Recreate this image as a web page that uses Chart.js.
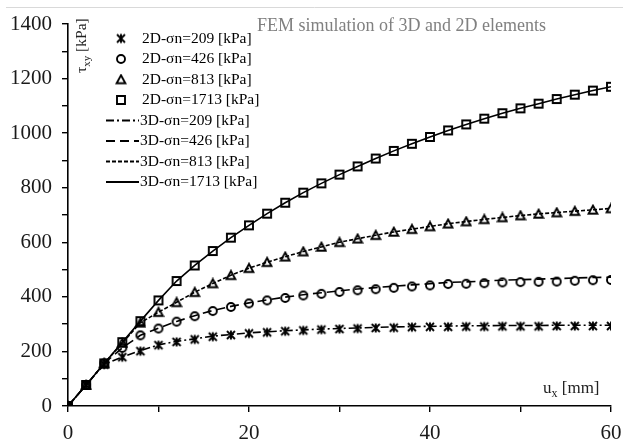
<!DOCTYPE html>
<html>
<head>
<meta charset="utf-8">
<script src="https://cdn.jsdelivr.net/npm/chart.js@4.4.0/dist/chart.umd.min.js"></script>
<style>
  html, body { margin: 0; padding: 0; background: #fff; }
  #wrap { width: 623px; height: 444px; }
</style>
</head>
<body>
<div id="wrap"><canvas id="c" width="623" height="444"></canvas></div>
<script>
// displacement u_x [mm]
const ux = [0, 2, 4, 6, 8, 10, 12, 14, 16, 18, 20, 22, 24, 26, 28, 30,
            32, 34, 36, 38, 40, 42, 44, 46, 48, 50, 52, 54, 56, 58, 60];

// 2D elements, shear stress tau_xy [kPa]
const t2d209  = [0, 77, 152, 179, 201, 223, 235, 244, 254, 260, 266, 270, 274, 277, 280, 282,
                 284, 286, 287, 289, 290, 290, 291, 291, 292, 292, 292, 293, 293, 293, 293];
const t2d426  = [0, 77, 156, 213, 259, 284, 309, 329, 348, 363, 376, 387, 396, 405, 411, 418,
                 424, 428, 433, 438, 442, 447, 448, 450, 453, 454, 455, 456, 459, 461, 462];
const t2d813  = [0, 77, 156, 231, 305, 344, 380, 417, 449, 479, 505, 527, 547, 566, 583, 600,
                 613, 626, 638, 648, 658, 668, 676, 684, 691, 698, 704, 709, 714, 719, 724];
const t2d1713 = [0, 77, 156, 234, 311, 387, 458, 515, 568, 617, 662, 705, 745, 782, 816, 848,
                 878, 907, 935, 961, 986, 1010, 1032, 1053, 1073, 1091, 1108, 1125, 1141, 1156, 1170];

// 3D elements
const t3d209  = [0, 77, 152, 180, 203, 224, 237, 246, 256, 262, 268, 272, 276, 279, 282, 284,
                 286, 288, 290, 291, 292, 293, 294, 294, 295, 295, 295, 296, 296, 296, 296];
const t3d426  = [0, 77, 156, 213, 259, 285, 310, 331, 350, 365, 378, 389, 399, 408, 415, 422,
                 429, 434, 439, 444, 448, 453, 455, 458, 461, 463, 465, 467, 469, 471, 472];
const t3d813  = [0, 77, 156, 231, 305, 344, 380, 417, 449, 479, 505, 527, 547, 566, 583, 600,
                 613, 626, 638, 648, 658, 668, 676, 684, 691, 698, 704, 709, 714, 719, 724];
const t3d1713 = [0, 77, 156, 234, 311, 387, 458, 515, 568, 617, 662, 705, 745, 782, 816, 848,
                 878, 907, 935, 961, 986, 1010, 1032, 1053, 1073, 1091, 1108, 1125, 1141, 1156, 1170];

const seriesLabels = [
  "2D-σn=209 [kPa]", "2D-σn=426 [kPa]", "2D-σn=813 [kPa]", "2D-σn=1713 [kPa]",
  "3D-σn=209 [kPa]", "3D-σn=426 [kPa]", "3D-σn=813 [kPa]", "3D-σn=1713 [kPa]"
];
const titleText = "FEM simulation of 3D and 2D elements";

const serif = '"Liberation Serif", "Times New Roman", serif';

// small canvases used as point markers
function marker(kind) {
  const c = document.createElement("canvas");
  c.width = 12; c.height = 12;
  const g = c.getContext("2d");
  g.strokeStyle = "#000";
  g.lineWidth = 1.9;
  g.beginPath();
  if (kind === "star") {
    g.moveTo(2, 2); g.lineTo(10, 10);
    g.moveTo(10, 2); g.lineTo(2, 10);
    g.moveTo(6, 1.5); g.lineTo(6, 10.5);
  } else if (kind === "circle") {
    g.arc(6, 6, 4, 0, Math.PI * 2);
  } else if (kind === "triangle") {
    g.moveTo(6, 1.8); g.lineTo(10.4, 9.8); g.lineTo(1.6, 9.8); g.closePath();
  } else {
    g.rect(2, 2, 8, 8);
  }
  g.stroke();
  return c;
}

const pts = arr => ux.map((x, i) => ({ x: x, y: arr[i] }));

function markerSet(label, arr, kind) {
  return {
    label: label,
    data: pts(arr),
    showLine: false,
    pointStyle: marker(kind),
    pointRadius: 6,
    pointHoverRadius: 6,
    borderColor: "#000",
    backgroundColor: "transparent"
  };
}

function lineSet(label, arr, dash) {
  return {
    label: label,
    data: pts(arr),
    borderColor: "#000",
    borderWidth: 1.6,
    borderDash: dash,
    pointRadius: 0,
    tension: 0,
    fill: false
  };
}

const datasets = [
  markerSet(seriesLabels[0], t2d209, "star"),
  markerSet(seriesLabels[1], t2d426, "circle"),
  markerSet(seriesLabels[2], t2d813, "triangle"),
  markerSet(seriesLabels[3], t2d1713, "square"),
  lineSet(seriesLabels[4], t3d209, [8, 3, 2, 3]),
  lineSet(seriesLabels[5], t3d426, [9, 5]),
  lineSet(seriesLabels[6], t3d813, [4, 2]),
  lineSet(seriesLabels[7], t3d1713, [])
];

// title, axis names and the in-plot legend
const overlay = {
  id: "overlay",
  afterDraw(chart) {
    const ctx = chart.ctx;
    ctx.save();

    ctx.strokeStyle = "#d9d9d9";
    ctx.lineWidth = 1;
    ctx.beginPath();
    ctx.moveTo(6, 7.5); ctx.lineTo(623, 7.5);
    ctx.stroke();

    ctx.fillStyle = "#808080";
    ctx.font = "18px " + serif;
    ctx.textBaseline = "alphabetic";
    ctx.textAlign = "left";
    ctx.fillText(titleText, 257, 31);

    // y axis name
    ctx.fillStyle = "#222";
    ctx.translate(86, 73);
    ctx.rotate(-Math.PI / 2);
    ctx.font = "15.5px " + serif;
    ctx.fillText("τ", 0, 0);
    let w = ctx.measureText("τ").width;
    ctx.font = "11px " + serif;
    ctx.fillText("xy", w, 4);
    w += ctx.measureText("xy").width;
    ctx.font = "15.5px " + serif;
    ctx.fillText(" [kPa]", w, 0);
    ctx.setTransform(1, 0, 0, 1, 0, 0);

    // x axis name
    ctx.font = "17px " + serif;
    ctx.fillText("u", 543, 393);
    let xw = 543 + ctx.measureText("u").width;
    ctx.font = "12px " + serif;
    ctx.fillText("x", xw, 397);
    xw += ctx.measureText("x").width;
    ctx.font = "17px " + serif;
    ctx.fillText(" [mm]", xw, 393);

    // legend
    ctx.fillStyle = "#000";
    ctx.font = "15.5px " + serif;
    ctx.textBaseline = "middle";
    chart.data.datasets.forEach((ds, i) => {
      const y = 38.5 + i * 20.5;
      if (ds.showLine === false) {
        const img = ds.pointStyle;
        ctx.drawImage(img, 121 - img.width / 2, y - img.height / 2);
        ctx.fillText(ds.label, 142, y);
      } else {
        ctx.strokeStyle = "#000";
        ctx.lineWidth = 2;
        ctx.setLineDash(ds.borderDash);
        ctx.beginPath();
        ctx.moveTo(106, y); ctx.lineTo(139, y);
        ctx.stroke();
        ctx.setLineDash([]);
        ctx.fillText(ds.label, 140, y);
      }
    });
    ctx.restore();
  }
};

new Chart(document.getElementById("c"), {
  type: "line",
  data: { datasets: datasets },
  options: {
    responsive: false,
    animation: false,
    events: [],
    layout: { padding: { left: 0, right: 12, top: 24, bottom: 0 } },
    plugins: { legend: { display: false }, tooltip: { enabled: false } },
    scales: {
      x: {
        type: "linear",
        min: 0, max: 60,
        afterFit: s => { s.height = 38; s.paddingLeft = 0; s.paddingRight = 0; },
        border: { display: true, color: "#000", width: 1.6 },
        grid: { drawOnChartArea: false, drawTicks: true, tickLength: 6, color: "#000", lineWidth: 1.4 },
        ticks: {
          stepSize: 10, autoSkip: false, maxRotation: 0, padding: 9,
          color: "#1a1a1a", font: { family: serif, size: 21 },
          callback: v => (v % 20 === 0 ? v : "")
        }
      },
      y: {
        min: 0, max: 1400,
        afterFit: s => { s.width = 68; s.paddingTop = 0; s.paddingBottom = 0; },
        border: { display: true, color: "#000", width: 1.6 },
        grid: { drawOnChartArea: false, drawTicks: true, tickLength: 6, color: "#000", lineWidth: 1.4 },
        ticks: {
          stepSize: 100, autoSkip: false, padding: 10,
          color: "#1a1a1a", font: { family: serif, size: 21 },
          callback: v => (v % 200 === 0 ? v : "")
        }
      }
    }
  },
  plugins: [overlay]
});
</script>
</body>
</html>
